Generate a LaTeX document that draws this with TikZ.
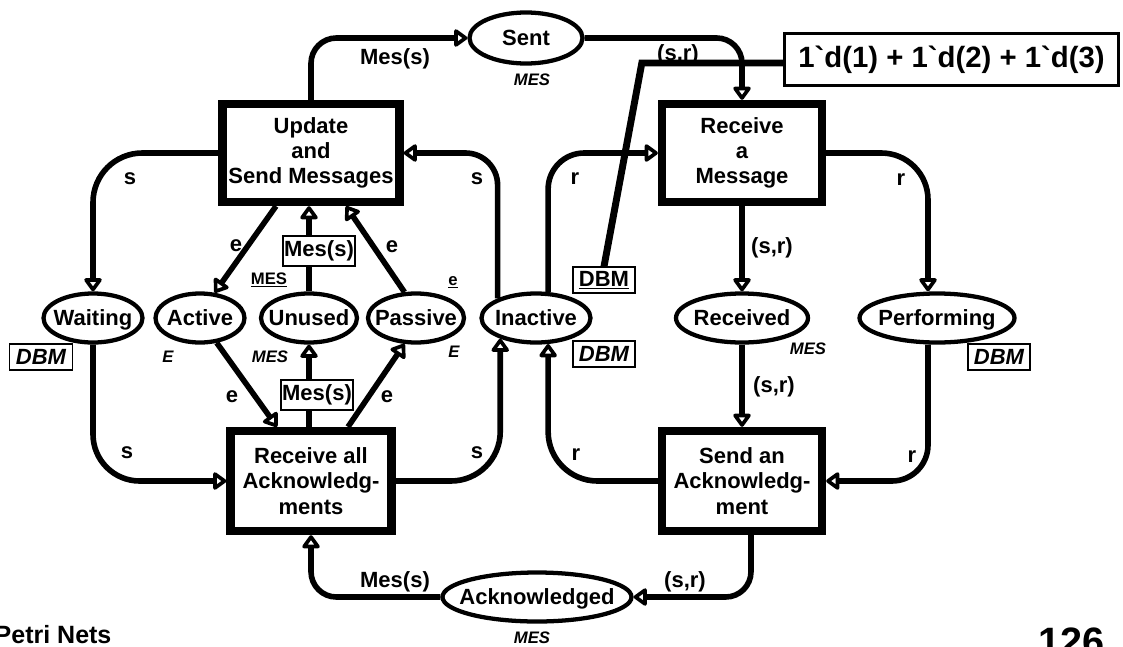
\documentclass[tikz,border=0pt]{standalone}
\usepackage{fontspec}
\newfontfamily\netfont{Liberation Sans}[Ligatures=TeXOff]
\usetikzlibrary{arrows.meta,shapes.geometric,calc}
\newlength\pix
\setlength\pix{0.75pt}

\begin{document}
\begin{tikzpicture}[x=1\pix,y=-1\pix,
    font=\netfont\bfseries\fontsize{16.5}{19}\selectfont,
    transbox/.style={draw,fill=white,line width=6.2pt,inner sep=0pt,align=center},
    placenode/.style={ellipse,draw,fill=white,line width=3.2pt,inner sep=0pt,
      minimum height=49\pix,text height=11.8pt,text depth=0pt,
      execute at begin node={\hbox to 0pt\bgroup\hss},
      execute at end node={\hss\egroup}},
    arcline/.style={line width=4.2pt,rounded corners=19pt,
      -{Triangle[open,round,length=11pt,width=15pt]}},
    inbox/.style={draw,fill=white,line width=0.8pt,inner sep=0pt},
    colset/.style={font=\netfont\bfseries\itshape\fontsize{12.5}{15}\selectfont},
    initval/.style={font=\netfont\bfseries\fontsize{12.5}{15}\selectfont}]
  \fill[white] (0,0) rectangle (1123,646);
  \useasboundingbox (0,0) rectangle (1123,646);

  % places
  \node[placenode,minimum width=99\pix]  (wait)   at (93,318)  {Waiting};
  \node[placenode,minimum width=89\pix]  (act)    at (200,318) {Active};
  \node[placenode,minimum width=96\pix]  (unused) at (309,318) {Unused};
  \node[placenode,minimum width=96\pix]  (pass)   at (416,318) {Passive};
  \node[placenode,minimum width=109\pix] (inact)  at (536,318) {Inactive};
  \node[placenode,minimum width=132\pix] (recd)   at (742,318) {Received};
  \node[placenode,minimum width=155\pix] (perf)   at (937,318) {Performing};
  \node[placenode,minimum width=113\pix,minimum height=51\pix] (sent) at (526,38) {Sent};
  \node[placenode,minimum width=189\pix] (ack)    at (537,597) {Acknowledged};

  % transitions
  \node[transbox,minimum width=177\pix,minimum height=98\pix]  (upd)  at (311,153) {Update\\and\\Send Messages};
  \node[transbox,minimum width=160\pix,minimum height=98\pix]  (rcv)  at (742,153) {Receive\\a\\Message};
  \node[transbox,minimum width=161\pix,minimum height=100\pix] (rall) at (311,481) {Receive all\\Acknowledg-\\ments};
  \node[transbox,minimum width=160\pix,minimum height=100\pix] (sack) at (742,481) {Send an\\Acknowledg-\\ment};

  % arcs
  \begin{scope}[arcline]
    \draw (upd.north) |- (sent.west);
    \draw (sent.east) -| (rcv.north);
    \draw[rounded corners=37pt] (upd.west) -| (wait.north);
    \draw[rounded corners=24pt] (inact.153) |- (upd.east);
    \draw[rounded corners=27pt] (inact.65) |- (rcv.west);
    \draw[rounded corners=35pt] (rcv.east) -| ($(perf.north)+(-9,0)$);
    \draw ($(upd.south)+(-35,0)$) -- (act.60);
    \draw (unused.north) -- (unused.north |- upd.south);
    \draw (pass.114) -- ($(upd.south)+(35,0)$);
    \draw (rcv.south) -- (recd.north);
    \draw[rounded corners=35pt] (wait.south) |- (rall.west);
    \draw (act.304) -- ($(rall.north)+(-34,0)$);
    \draw (unused.south |- rall.north) -- (unused.south);
    \draw ($(rall.north)+(37,0)$) -- (pass.246);
    \draw[rounded corners=37pt] (rall.east) -| (inact.210);
    \draw[rounded corners=37pt] (sack.west) -| (inact.295);
    \draw (recd.south) -- (sack.north);
    \draw[rounded corners=27pt] ($(perf.south)+(-9,0)$) |- (sack.east);
    \draw ($(sack.south)+(9,0)$) |- (ack.east);
    \draw (ack.west) -| (rall.south);
  \end{scope}

  % arc inscriptions
  \node (i1)  at (395,59)  {Mes(s)};
  \node (i2)  at (678,55)  {(s,r)};
  \node (i3)  at (130,179) {s};
  \node (i4)  at (477,179) {s};
  \node (i5)  at (575,179) {r};
  \node (i6)  at (901,180) {r};
  \node (i7)  at (236,246) {e};
  \node (i8)  at (392,247) {e};
  \node (i9)  at (772,248) {(s,r)};
  \node (i10) at (232,397) {e};
  \node (i11) at (387,397) {e};
  \node (i12) at (774,387) {(s,r)};
  \node (i13) at (127,453) {s};
  \node (i14) at (477,453) {s};
  \node (i15) at (576,455) {r};
  \node (i16) at (912,457) {r};
  \node (i17) at (395,582) {Mes(s)};
  \node (i18) at (685,582) {(s,r)};
  \node[inbox,minimum width=72\pix,minimum height=30\pix] (mu) at (319,251) {Mes(s)};
  \node[inbox,minimum width=72\pix,minimum height=30\pix] (md) at (317,395) {Mes(s)};

  % colour sets and initial values
  \node[colset] (c1) at (532,80)  {MES};
  \node[colset] (c2) at (168,357) {E};
  \node[colset] (c3) at (270,357) {MES};
  \node[colset] (c4) at (454,352) {E};
  \node[colset] (c5) at (808,349) {MES};
  \node[colset] (c6) at (532,638) {MES};
  \node[initval] (v1) at (269,280) {\underline{MES}};
  \node[initval] (v2) at (453,282) {\underline{e}};

  \node[inbox,minimum width=63\pix,minimum height=26\pix,font=\netfont\bfseries\itshape\fontsize{16.5}{19}\selectfont] (dbmw) at (41,357) {DBM};
  \node[inbox,minimum width=62\pix,minimum height=26\pix] (dbmi) at (604,280) {\underline{DBM}};
  \node[inbox,minimum width=62\pix,minimum height=26\pix,font=\netfont\bfseries\itshape\fontsize{16.5}{19}\selectfont] (dbmn) at (604,354) {DBM};
  \node[inbox,minimum width=62\pix,minimum height=26\pix,font=\netfont\bfseries\itshape\fontsize{16.5}{19}\selectfont] (dbmp) at (999,357) {DBM};

  % initial marking
  \node[draw,fill=white,line width=2.5pt,inner sep=0pt,minimum width=334\pix,minimum height=52\pix,
    font=\netfont\bfseries\fontsize{22}{26}\selectfont] (init) at (951.5,59.5) {1`d(1) + 1`d(2) + 1`d(3)};
  \draw[line width=5.2pt] ($(init.west)+(0,3.5)$) -- ++(-141,0) -- (dbmi.north);

  \node[anchor=base west,font=\netfont\bfseries\fontsize{18.75}{22}\selectfont] (title) at (-10,643) {Petri Nets};
  \node[anchor=base east,font=\netfont\bfseries\fontsize{29.7}{34}\selectfont] (page) at (1109,655) {126};
\end{tikzpicture}
\end{document}
